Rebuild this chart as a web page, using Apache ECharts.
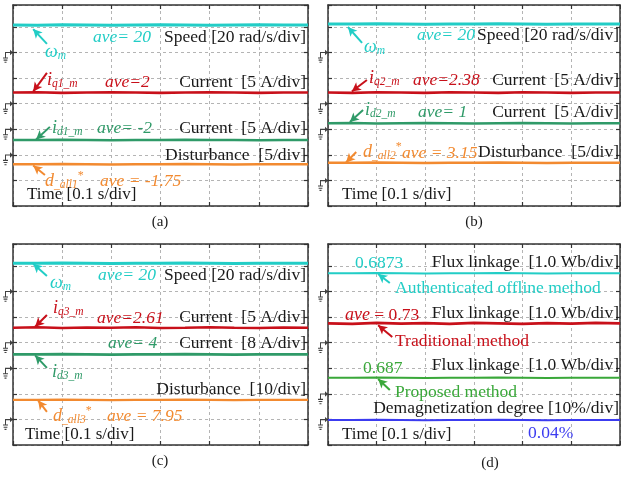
<!DOCTYPE html>
<html>
<head>
<meta charset="utf-8">
<script src="https://cdn.jsdelivr.net/npm/echarts@6/dist/echarts.min.js"></script>
<style>
  html, body { margin: 0; padding: 0; background: #fff; }
  #main { width: 621px; height: 477px; }
</style>
</head>
<body>
<div id="main"></div>
<script>
// time axis in divisions (0.1 s/div)
const timeDiv = [0, 0.5, 1, 1.5, 2, 2.5, 3, 3.5, 4, 4.5, 5, 5.5, 6];

// traces, in screen divisions
const speedA = [7.07, 7.06, 7.08, 7.07, 7.06, 7.07, 7.08, 7.07, 7.06, 7.07, 7.08, 7.07, 7.07];
const iqA    = [4.43, 4.44, 4.42, 4.43, 4.44, 4.43, 4.42, 4.43, 4.44, 4.43, 4.42, 4.43, 4.43];
const idA    = [2.58, 2.58, 2.59, 2.58, 2.57, 2.58, 2.58, 2.59, 2.58, 2.58, 2.57, 2.58, 2.58];
const distA  = [1.63, 1.63, 1.64, 1.63, 1.62, 1.63, 1.63, 1.64, 1.63, 1.62, 1.63, 1.63, 1.63];

const speedB = [7.11, 7.11, 7.12, 7.11, 7.10, 7.11, 7.11, 7.12, 7.11, 7.10, 7.11, 7.11, 7.11];
const iqB    = [4.43, 4.42, 4.44, 4.43, 4.42, 4.44, 4.43, 4.42, 4.44, 4.43, 4.42, 4.43, 4.43];
const idB    = [3.23, 3.24, 3.22, 3.23, 3.24, 3.23, 3.22, 3.23, 3.24, 3.23, 3.22, 3.23, 3.23];
const distB  = [1.69, 1.69, 1.70, 1.69, 1.68, 1.69, 1.69, 1.70, 1.69, 1.68, 1.69, 1.69, 1.69];

const speedC = [7.10, 7.10, 7.11, 7.10, 7.09, 7.10, 7.10, 7.11, 7.10, 7.09, 7.10, 7.10, 7.10];
const iqC    = [4.58, 4.60, 4.57, 4.59, 4.58, 4.60, 4.57, 4.58, 4.60, 4.58, 4.57, 4.59, 4.58];
const idC    = [3.54, 3.54, 3.55, 3.54, 3.53, 3.54, 3.54, 3.55, 3.54, 3.53, 3.54, 3.54, 3.54];
const distC  = [1.76, 1.76, 1.77, 1.76, 1.75, 1.76, 1.76, 1.77, 1.76, 1.75, 1.76, 1.76, 1.76];

const fluxOffline  = [6.71, 6.71, 6.72, 6.71, 6.70, 6.71, 6.71, 6.72, 6.71, 6.70, 6.71, 6.71, 6.71];
const fluxTrad     = [4.75, 4.73, 4.77, 4.74, 4.76, 4.73, 4.77, 4.75, 4.73, 4.76, 4.74, 4.77, 4.75];
const fluxProposed = [2.63, 2.63, 2.64, 2.63, 2.62, 2.63, 2.63, 2.64, 2.63, 2.62, 2.63, 2.63, 2.63];
const demag        = [0.98, 0.98, 0.99, 0.98, 0.97, 0.98, 0.98, 0.99, 0.98, 0.97, 0.98, 0.98, 0.98];

// channel ground markers (division levels)
const groundA = [6, 4, 3, 2];
const groundB = [6, 4, 3, 1];
const groundC = [6, 4, 3, 1];
const groundD = [6, 4, 2, 1];

const CYAN = '#22cdc6', RED = '#c8101a', GREEN = '#2f9a68', ORANGE = '#f28a30';
const GREEN_D = '#3aa83a', BLUE = '#3c3cf0', INK = '#1a1a1a';
const FONT = '"Liberation Serif", "DejaVu Serif", serif';

const chart = echarts.init(document.getElementById('main'));

const grids = [
  { left: 13, top: 5, width: 295, height: 201 },
  { left: 328, top: 5, width: 292, height: 201 },
  { left: 13, top: 244, width: 295, height: 201 },
  { left: 328, top: 244, width: 292, height: 201 }
];

const xAxes = [], yAxes = [];
grids.forEach((g, i) => {
  const line = { show: true, onZero: false, lineStyle: { color: '#333', width: 1.5 } };
  const tick = { show: true, inside: true, length: 4, lineStyle: { color: '#333', width: 1.2 } };
  const split = { show: true, lineStyle: { color: '#b4b4b4', type: [3, 3], width: 1 } };
  xAxes.push({ gridIndex: i, type: 'value', min: 0, max: 6, interval: 1, position: 'bottom',
    axisLine: line, axisTick: tick, axisLabel: { show: false }, splitLine: split });
  xAxes.push({ gridIndex: i, type: 'value', min: 0, max: 6, interval: 1, position: 'top',
    axisLine: line, axisTick: tick, axisLabel: { show: false }, splitLine: { show: false } });
  yAxes.push({ gridIndex: i, type: 'value', min: 0, max: 7.85, interval: 1, position: 'left',
    axisLine: line, axisTick: tick, axisLabel: { show: false }, splitLine: split });
  yAxes.push({ gridIndex: i, type: 'value', min: 0, max: 7.85, interval: 1, position: 'right',
    axisLine: line, axisTick: tick, axisLabel: { show: false }, splitLine: { show: false } });
});

function pairs(ys) { return timeDiv.map((t, k) => [t, ys[k]]); }

function trace(panel, ys, color, width, arrow) {
  const s = {
    type: 'line', xAxisIndex: panel * 2, yAxisIndex: panel * 2,
    data: pairs(ys), showSymbol: false, symbol: 'none', silent: true,
    lineStyle: { color: color, width: width }, z: 3
  };
  if (arrow) {
    s.markLine = {
      silent: true, symbol: ['none', 'arrow'], symbolSize: [7, 9],
      label: { show: false },
      lineStyle: { color: color, width: 2, type: 'solid' },
      data: [[{ coord: arrow[0] }, { coord: arrow[1] }]]
    };
  }
  return s;
}

const groundPath = 'path://M2,3H7V1L10,3.5L7,6V4H3V8H5V9H0V8H2Z M0.6,10H4.4V11H0.6Z M1.5,12H3.5V13H1.5Z';
function ground(panel, levels) {
  return {
    type: 'scatter', xAxisIndex: panel * 2, yAxisIndex: panel * 2, clip: false, silent: true,
    data: levels.map(v => [0, v]), symbol: groundPath, symbolSize: [10, 13],
    symbolOffset: [-5, 4], itemStyle: { color: '#111' }, z: 4
  };
}

const series = [
  trace(0, speedA, CYAN, 3, [[0.69, 6.33], [0.41, 6.91]]),
  trace(0, iqA, RED, 2.6, [[0.69, 5.20], [0.41, 4.47]]),
  trace(0, idA, GREEN, 2.6, [[0.75, 3.09], [0.47, 2.60]]),
  trace(0, distA, ORANGE, 2.6, [[0.65, 1.21], [0.41, 1.58]]),
  ground(0, groundA),

  trace(1, speedB, CYAN, 3, [[0.70, 6.37], [0.41, 6.99]]),
  trace(1, iqB, RED, 2.6, [[0.80, 4.92], [0.49, 4.47]]),
  trace(1, idB, GREEN, 2.6, [[0.72, 3.75], [0.45, 3.28]]),
  trace(1, distB, ORANGE, 2.6, [[0.58, 2.11], [0.37, 1.70]]),
  ground(1, groundB),

  trace(2, speedC, CYAN, 3, [[0.69, 6.60], [0.41, 7.08]]),
  trace(2, iqC, RED, 2.6, [[0.69, 5.08], [0.45, 4.62]]),
  trace(2, idC, GREEN, 2.6, [[0.69, 3.01], [0.45, 3.50]]),
  trace(2, distC, ORANGE, 2.2, [[0.69, 1.29], [0.51, 1.74]]),
  ground(2, groundC),

  trace(3, fluxOffline, CYAN, 2, [[1.27, 6.33], [1.03, 6.68]]),
  trace(3, fluxTrad, RED, 2.6, [[1.32, 4.22], [1.03, 4.68]]),
  trace(3, fluxProposed, GREEN_D, 2, [[1.27, 2.15], [1.03, 2.58]]),
  trace(3, demag, BLUE, 2, null),
  ground(3, groundD)
];

const rich = {
  it: { fontFamily: FONT, fontStyle: 'italic', fontSize: 18 },
  sub: { fontFamily: FONT, fontStyle: 'italic', fontSize: 11.5, padding: [7, 0, 0, 0] },
  sup: { fontFamily: FONT, fontSize: 12, padding: [0, 0, 10, 0] }
};

function txt(x, y, text, color, o) {
  o = o || {};
  return {
    type: 'text', x: x, y: y, z: 100, silent: true,
    style: {
      text: text, fill: color, fontFamily: FONT, fontSize: o.size || 17.5,
      fontStyle: o.italic ? 'italic' : 'normal', align: o.align || 'left',
      verticalAlign: 'middle', rich: rich
    }
  };
}
function right(x, y, text) { return txt(x, y, text, INK, { align: 'right' }); }

const graphic = [
  // (a)
  txt(45, 52, '{it|ω}{sub|m}', CYAN),
  txt(93, 37, 'ave= 20', CYAN, { italic: true, size: 17.5 }),
  right(306, 37, 'Speed [20 rad/s/div]'),
  txt(47, 80, '{it|i}{sub|q1_m}', RED),
  txt(105, 82, 'ave=2', RED, { italic: true, size: 17.5 }),
  right(306, 82, 'Current  [5 A/div]'),
  txt(52, 128, '{it|i}{sub|d1_m}', GREEN),
  txt(97, 128, 'ave= -2', GREEN, { italic: true, size: 17.5 }),
  right(306, 128, 'Current  [5 A/div]'),
  right(306, 155, 'Disturbance  [5/div]'),
  txt(45, 181, '{it|d}{sub|_all1}{sup|*}', ORANGE),
  txt(100, 181, 'ave = -1.75', ORANGE, { italic: true, size: 17.5 }),
  txt(27, 195, 'Time [0.1 s/div]', INK, { size: 17 }),

  // (b)
  txt(364, 47, '{it|ω}{sub|m}', CYAN),
  txt(417, 35, 'ave= 20', CYAN, { italic: true, size: 17.5 }),
  right(619, 35, 'Speed [20 rad/s/div]'),
  txt(369, 78, '{it|i}{sub|q2_m}', RED),
  txt(413, 80, 'ave=2.38', RED, { italic: true, size: 17.5 }),
  right(619, 80, 'Current  [5 A/div]'),
  txt(365, 110, '{it|i}{sub|d2_m}', GREEN),
  txt(418, 112, 'ave= 1', GREEN, { italic: true, size: 17.5 }),
  right(619, 112, 'Current  [5 A/div]'),
  txt(363, 152, '{it|d}{sub|_all2}{sup|*}', ORANGE),
  txt(402, 153, 'ave = 3.15', ORANGE, { italic: true, size: 17.5 }),
  right(619, 152, 'Disturbance  [5/div]'),
  txt(342, 195, 'Time [0.1 s/div]', INK, { size: 17 }),

  // (c)
  txt(50, 283, '{it|ω}{sub|m}', CYAN),
  txt(98, 275, 'ave= 20', CYAN, { italic: true, size: 17.5 }),
  right(306, 275, 'Speed [20 rad/s/div]'),
  txt(53, 308, '{it|i}{sub|q3_m}', RED),
  txt(97, 318, 'ave=2.61', RED, { italic: true, size: 17.5 }),
  right(306, 317, 'Current  [5 A/div]'),
  txt(108, 343, 'ave= 4', GREEN, { italic: true, size: 17.5 }),
  right(306, 343, 'Current  [8 A/div]'),
  txt(52, 372, '{it|i}{sub|d3_m}', GREEN),
  right(306, 389, 'Disturbance  [10/div]'),
  txt(53, 416, '{it|d}{sub|_all3}{sup|*}', ORANGE),
  txt(107, 416, 'ave = 7.95', ORANGE, { italic: true, size: 17.5 }),
  txt(25, 435, 'Time [0.1 s/div]', INK, { size: 17 }),

  // (d)
  txt(355, 263, '0.6873', CYAN),
  right(619, 262, 'Flux linkage  [1.0 Wb/div]'),
  txt(395, 288, 'Authenticated offline method', CYAN),
  txt(345, 315, '{it|ave} = 0.73', RED),
  right(619, 313, 'Flux linkage  [1.0 Wb/div]'),
  txt(395, 341, 'Traditional method', RED),
  txt(363, 368, '0.687', GREEN_D),
  right(619, 365, 'Flux linkage  [1.0 Wb/div]'),
  txt(395, 392, 'Proposed method', GREEN_D),
  right(619, 408, 'Demagnetization degree [10%/div]'),
  txt(342, 435, 'Time [0.1 s/div]', INK, { size: 17 }),
  txt(528, 433, '0.04%', BLUE),

  // captions
  txt(160, 222, '(a)', INK, { align: 'center', size: 15 }),
  txt(474, 222, '(b)', INK, { align: 'center', size: 15 }),
  txt(160, 461, '(c)', INK, { align: 'center', size: 15 }),
  txt(490, 463, '(d)', INK, { align: 'center', size: 15 })
];

chart.setOption({
  animation: false,
  backgroundColor: '#fff',
  grid: grids,
  xAxis: xAxes,
  yAxis: yAxes,
  series: series,
  graphic: graphic
});
</script>
</body>
</html>
